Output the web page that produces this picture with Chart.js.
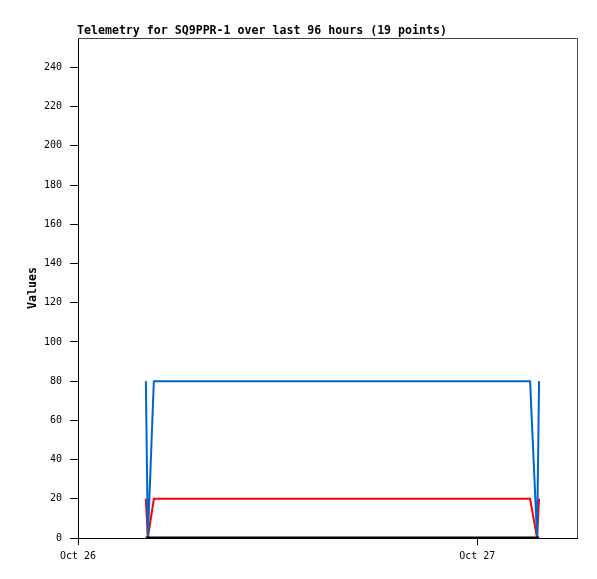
<!DOCTYPE html>
<html>
<head>
<meta charset="utf-8">
<script src="https://cdn.jsdelivr.net/npm/chart.js@4.4.1/dist/chart.umd.min.js"></script>
<style>
  html, body { margin: 0; padding: 0; background: #fff; }
  #wrap { width: 597px; height: 579px; }
</style>
</head>
<body>
<div id="wrap"><canvas id="telemetryChart" width="597" height="579"></canvas></div>
<script>
const chartTitle = 'Telemetry for SQ9PPR-1 over last 96 hours (19 points)';
const yTitle = 'Values';

// hours since Oct 26 00:00
const hours = [4.08, 4.2, 4.56, 6.0, 7.5, 9.0, 10.5, 12.0, 13.5, 15.0, 16.5, 18.0, 19.5, 21.0, 22.5, 24.0, 27.18, 27.6, 27.72];
const blueValues = [80, 0, 80, 80, 80, 80, 80, 80, 80, 80, 80, 80, 80, 80, 80, 80, 80, 0, 80];
const redValues = [20, 0, 20, 20, 20, 20, 20, 20, 20, 20, 20, 20, 20, 20, 20, 20, 20, 0, 20];
const blackValues = [0, 0, 0, 0, 0, 0, 0, 0, 0, 0, 0, 0, 0, 0, 0, 0, 0, 0, 0];

const xTickHours = [0, 24];
const xTickLabels = ['Oct 26', 'Oct 27'];
const yTicks = [0, 20, 40, 60, 80, 100, 120, 140, 160, 180, 200, 220, 240];

function toPoints(values) {
    return values.map((v, i) => ({ x: hours[i], y: v }));
}

// title, y axis title and the grey frame on top / right
const decorations = {
    id: 'decorations',
    afterDraw(chart) {
        const ctx = chart.ctx;
        const area = chart.chartArea;
        ctx.save();
        ctx.strokeStyle = '#444';
        ctx.lineWidth = 1;
        ctx.beginPath();
        ctx.moveTo(area.left, area.top + 0.5);
        ctx.lineTo(area.right + 0.5, area.top + 0.5);
        ctx.lineTo(area.right + 0.5, area.bottom);
        ctx.stroke();

        ctx.fillStyle = '#000';
        ctx.font = 'bold 11.6px "DejaVu Sans Mono", monospace';
        ctx.textAlign = 'left';
        ctx.textBaseline = 'alphabetic';
        ctx.fillText(chartTitle, area.left - 1, 34);

        ctx.translate(36, (area.top + area.bottom) / 2);
        ctx.rotate(-Math.PI / 2);
        ctx.textAlign = 'center';
        ctx.fillText(yTitle, 0, 0);
        ctx.restore();
    }
};

const ctx = document.getElementById('telemetryChart');

const telemetryChart = new Chart(ctx, {
    type: 'line',
    data: {
        datasets: [
            { data: toPoints(blackValues), borderColor: '#000', borderWidth: 3 },
            { data: toPoints(blueValues), borderColor: '#0066cc', borderWidth: 2 },
            { data: toPoints(redValues), borderColor: '#ff0000', borderWidth: 2 }
        ]
    },
    options: {
        responsive: false,
        animation: false,
        layout: { padding: { left: 0, top: 38, right: 20, bottom: 0 } },
        elements: {
            point: { radius: 0 },
            line: { tension: 0, fill: false }
        },
        plugins: {
            legend: { display: false },
            tooltip: { enabled: false }
        },
        scales: {
            x: {
                type: 'linear',
                min: 0,
                max: 30,
                afterFit: (scale) => { scale.height = 41; },
                afterBuildTicks: (scale) => { scale.ticks = xTickHours.map(v => ({ value: v })); },
                grid: { drawOnChartArea: false, tickLength: 7, color: '#000' },
                border: { color: '#000', width: 1 },
                ticks: {
                    padding: 5,
                    maxRotation: 0,
                    color: '#000',
                    font: { family: '"DejaVu Sans Mono", monospace', size: 10 },
                    callback: (value) => xTickLabels[xTickHours.indexOf(value)]
                }
            },
            y: {
                min: 0,
                max: 255,
                afterFit: (scale) => { scale.width = 78; },
                afterBuildTicks: (scale) => { scale.ticks = yTicks.map(v => ({ value: v })); },
                grid: { drawOnChartArea: false, tickLength: 8, color: '#000' },
                border: { color: '#000', width: 1 },
                ticks: {
                    padding: 8,
                    color: '#000',
                    font: { family: '"DejaVu Sans Mono", monospace', size: 10 }
                }
            }
        }
    },
    plugins: [decorations]
});
</script>
</body>
</html>
